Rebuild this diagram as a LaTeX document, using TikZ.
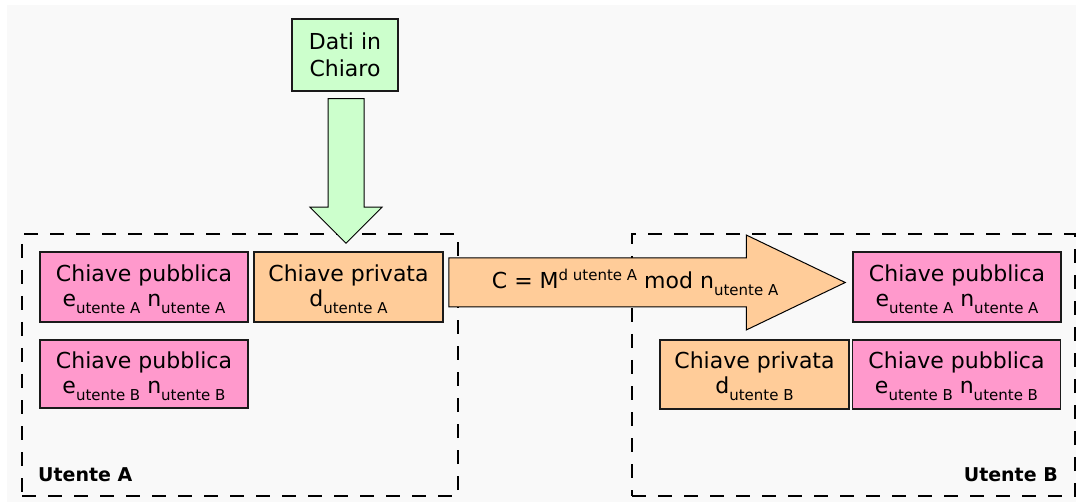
\documentclass[tikz,border=0pt]{standalone}
\usepackage{fontspec}
\setmainfont{DejaVu Sans}
\usetikzlibrary{calc}

\definecolor{canvas}{HTML}{F9F9F9}
\definecolor{pubkey}{HTML}{FF99CC}
\definecolor{privkey}{HTML}{FFCC99}
\definecolor{plain}{HTML}{CCFFCC}
\definecolor{edge}{HTML}{1A1A1A}

% small lowered / raised indices in text
\newcommand{\lowidx}[1]{\raisebox{-7pt}{\fontsize{15}{15}\selectfont #1}}
\newcommand{\highidx}[1]{\raisebox{8pt}{\fontsize{15}{15}\selectfont #1}}
% a little extra room above the first line of a key box
\newcommand{\keystrut}{\rule{0pt}{21pt}}

\begin{document}
\begin{tikzpicture}[x=1pt,y=-1pt,
  keybox/.style={draw=edge, line width=1.5pt, inner sep=0pt, align=center,
    font=\fontsize{22}{25}\selectfont, minimum height=70},
  pubbox/.style={keybox, fill=pubkey, minimum width=208},
  privbox/.style={keybox, fill=privkey, minimum width=189},
  userbox/.style={draw=black, line width=2pt, dash pattern=on 14pt off 12pt,
    inner sep=0pt},
  userlabel/.style={inner sep=0pt, font=\fontsize{19}{19}\selectfont\bfseries},
  blockarrow/.style={draw=black, line width=1pt, line join=miter}]

\useasboundingbox (0,0) rectangle (1076,502);
\fill[white] (0,0) rectangle (1076,502);
\fill[canvas] (7,5) rectangle (1076,502);

% the two users
\node[userbox, minimum width=436, minimum height=262] (userA) at (240,365) {};
\node[userbox, minimum width=443, minimum height=262] (userB) at (853.5,365) {};
\node[userlabel, anchor=base west] (labA) at (38,481) {Utente A};
\node[userlabel, anchor=base east] (labB) at (1058,481) {Utente B};

% plaintext
\node[keybox, fill=plain, minimum width=106, minimum height=72,
  font=\fontsize{22}{27}\selectfont] (dati) at (345,55) {Dati in\\Chiaro};

% keys held by user A
\node[pubbox] (pubA1) at (144,287) {\keystrut Chiave pubblica\\e\lowidx{utente A} n\lowidx{utente A}};
\node[privbox] (privA) at (348.5,287) {\keystrut Chiave privata\\d\lowidx{utente A}};
\node[pubbox, minimum height=68] (pubA2) at (144,374) {\keystrut Chiave pubblica\\e\lowidx{utente B} n\lowidx{utente B}};

% keys held by user B
\node[pubbox] (pubB1) at (957,287) {\keystrut Chiave pubblica\\e\lowidx{utente A} n\lowidx{utente A}};
\node[privbox, minimum height=69] (privB) at (754.5,374.5) {\keystrut Chiave privata\\d\lowidx{utente B}};
\node[pubbox, minimum height=69] (pubB2) at (956.5,374.5) {\keystrut Chiave pubblica\\e\lowidx{utente B} n\lowidx{utente B}};

% plaintext goes into the private-key step of user A
\coordinate (dtail) at ($(dati.south)+(1,7)$);
\coordinate (dtip) at ($(dtail |- privA.north)+(0,-8)$);
\draw[blockarrow, fill=plain]
  ($(dtail)+(-18,0)$) -- ($(dtail)+(18,0)$) -- ($(dtip)+(18,-36)$)
  -- ($(dtip)+(36,-36)$) -- (dtip) -- ($(dtip)+(-36,-36)$)
  -- ($(dtip)+(-18,-36)$) -- cycle;

% ciphertext sent from user A to user B
\coordinate (rtail) at ($(privA.east)+(5,-4.5)$);
\coordinate (rtip) at ($(rtail -| pubB1.west)+(-7,0)$);
\draw[blockarrow, fill=privkey]
  ($(rtail)+(0,-24.5)$) -- ($(rtip)+(-99,-24.5)$) -- ($(rtip)+(-99,-47.5)$)
  -- (rtip) -- ($(rtip)+(-99,47.5)$) -- ($(rtip)+(-99,24.5)$)
  -- ($(rtail)+(0,24.5)$) -- cycle;
\node[inner sep=0pt, font=\fontsize{22}{25}\selectfont] (cipher)
  at ($(rtail)!0.47!(rtip)$)
  {C = M\highidx{d utente A} mod n\lowidx{utente A}};

\end{tikzpicture}
\end{document}
